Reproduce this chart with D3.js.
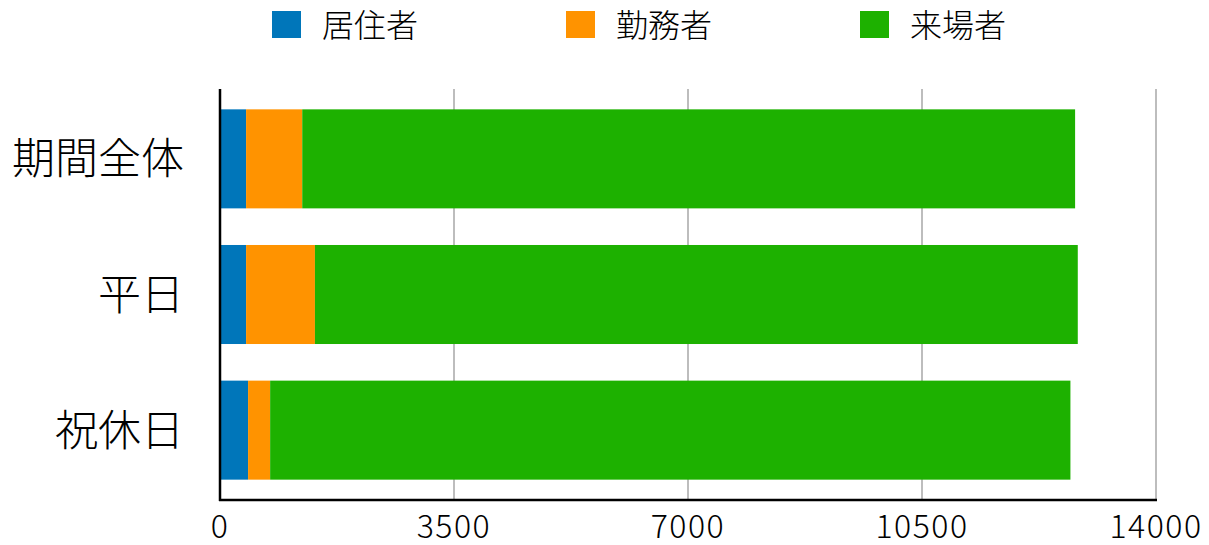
<!DOCTYPE html>
<html>
<head>
<meta charset="utf-8">
<script src="https://cdn.jsdelivr.net/npm/d3@7"></script>
<style>
  body { margin: 0; background: #fff; }
  svg { display: block; }
  text { font-family: "Noto Sans CJK JP", "Noto Sans", sans-serif; fill: #000; font-weight: 300; }
</style>
</head>
<body>
<svg width="1209" height="545"></svg>
<script>
const categories = ["期間全体", "平日", "祝休日"];
const seriesNames = ["居住者", "勤務者", "来場者"];
const residents = [390, 390, 420];
const workers = [840, 1030, 330];
const visitors = [11560, 11410, 11970];
const tickValues = [0, 3500, 7000, 10500, 14000];
const colors = ["#0076BA", "#FF9300", "#1DB100"];

const svg = d3.select("svg");

const x = d3.scaleLinear().domain([0, 14000]).range([220, 1156]);
const y = d3.scaleBand().domain(categories).range([89, 500])
  .paddingInner(0.27).paddingOuter(0.15);

// rows for the stack
const rows = categories.map((c, i) => ({
  cat: c, "居住者": residents[i], "勤務者": workers[i], "来場者": visitors[i]
}));
const stacked = d3.stack().keys(seriesNames)(rows);

// grid lines
svg.append("g")
  .selectAll("line")
  .data(tickValues.slice(1))
  .join("line")
  .attr("x1", d => x(d)).attr("x2", d => x(d))
  .attr("y1", 89).attr("y2", 500)
  .attr("stroke", "#bdbdbd")
  .attr("stroke-width", 2);

// bars
svg.append("g")
  .selectAll("g")
  .data(stacked)
  .join("g")
  .attr("fill", (d, i) => colors[i])
  .selectAll("rect")
  .data(d => d)
  .join("rect")
  .attr("x", d => x(d[0]))
  .attr("width", d => x(d[1]) - x(d[0]))
  .attr("y", d => y(d.data.cat))
  .attr("height", y.bandwidth());

// axes lines
svg.append("line")
  .attr("x1", 220).attr("x2", 220).attr("y1", 89).attr("y2", 501)
  .attr("stroke", "#000").attr("stroke-width", 2.5);
svg.append("line")
  .attr("x1", 219).attr("x2", 1157).attr("y1", 500).attr("y2", 500)
  .attr("stroke", "#000").attr("stroke-width", 2.5);

// x tick labels
svg.append("g")
  .selectAll("text")
  .data(tickValues)
  .join("text")
  .attr("x", d => x(d))
  .attr("y", 538)
  .attr("text-anchor", "middle")
  .style("font-size", "32px")
  .style("letter-spacing", "1.5px")
  .text(d => d);

// category labels
svg.append("g")
  .selectAll("text")
  .data(categories)
  .join("text")
  .attr("x", 184)
  .attr("y", d => y(d) + y.bandwidth() / 2)
  .attr("dy", "0.36em")
  .attr("text-anchor", "end")
  .style("font-size", "43px")
  .text(d => d);

// legend
const legend = svg.append("g")
  .selectAll("g")
  .data(seriesNames)
  .join("g")
  .attr("transform", (d, i) => `translate(${272 + i * 294}, 11)`);

legend.append("rect")
  .attr("width", 29).attr("height", 27)
  .attr("fill", (d, i) => colors[i]);

legend.append("text")
  .attr("x", 50)
  .attr("y", 14)
  .attr("dy", "0.36em")
  .style("font-size", "32px")
  .text(d => d);
</script>
</body>
</html>
